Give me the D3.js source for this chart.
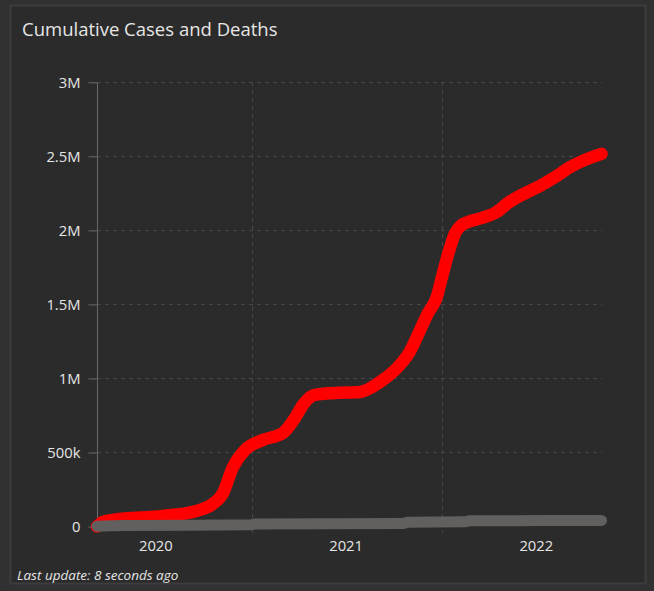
<!DOCTYPE html>
<html><head><meta charset="utf-8">
<script src="https://cdn.jsdelivr.net/npm/d3@7"></script>
<style>
html,body{margin:0;padding:0;background:#313131;}
svg{display:block;}
</style></head>
<body>
<svg id="chart" width="654" height="591"></svg>
<script>
const title = "Cumulative Cases and Deaths";
const footer = "Last update: 8 seconds ago";
const yTicks = [0, 500000, 1000000, 1500000, 2000000, 2500000, 3000000];
const yTickLabels = ["0", "500k", "1M", "1.5M", "2M", "2.5M", "3M"];
const yearLabels = ["2020", "2021", "2022"];
const caseDates = ["2020-03-10","2020-03-21","2020-04-09","2020-07-14","2020-09-17","2020-10-18","2020-11-06","2020-11-26","2020-12-19","2021-01-22","2021-03-02","2021-03-25","2021-04-09","2021-05-02","2021-06-10","2021-07-28","2021-09-04","2021-10-12","2021-10-31","2021-11-19","2021-12-05","2021-12-22","2022-01-01","2022-01-14","2022-01-26","2022-02-08","2022-02-20","2022-03-19","2022-04-13","2022-05-11","2022-06-09","2022-07-08","2022-08-06","2022-09-03","2022-10-02","2022-11-03"];
const caseValues = [0,30000,44000,71000,105000,152000,220000,402000,517000,584000,632000,733000,821000,889000,902000,909000,976000,1091000,1180000,1320000,1440000,1550000,1686000,1855000,1980000,2037000,2057000,2084000,2118000,2193000,2250000,2300000,2360000,2425000,2476000,2517000];
const deathDates = ["2020-03-10","2020-05-01","2020-12-31","2021-01-06","2021-10-20","2021-10-27","2022-02-15","2022-02-22","2022-11-03"];
const deathValues = [2000,6000,11000,17000,21000,29000,32000,38000,41000];

const svg = d3.select("#chart");
const parse = d3.timeParse("%Y-%m-%d");
const cases = caseDates.map((d,i)=>({date:parse(d), v:caseValues[i]}));
const deaths = deathDates.map((d,i)=>({date:parse(d), v:deathValues[i]}));
const font = "'Open Sans', sans-serif";
const textColor = "#e6e6e6";

// panel
svg.append("rect").attr("x",0).attr("y",0).attr("width",654).attr("height",591).attr("fill","#313131");
svg.append("rect").attr("x",10.5).attr("y",5.5).attr("width",635).attr("height",578).attr("fill","#2b2b2b").attr("stroke","#3d3d3d").attr("stroke-width",2);

svg.append("text").attr("x",22).attr("y",36).attr("fill",textColor)
  .attr("font-family",font).attr("font-size",18.5).text(title);
svg.append("text").attr("x",17).attr("y",580).attr("fill",textColor)
  .attr("font-family",font).attr("font-style","italic").attr("font-size",13.5).text(footer);

const x = d3.scaleTime().domain([parse("2020-03-10"), parse("2022-11-04")]).range([97, 602]);
const y = d3.scaleLinear().domain([0, 3000000]).range([526.5, 82.3]);

const gridColor = "#474747";
svg.append("g").selectAll("line").data(yTicks.filter(t=>t>0)).join("line")
  .attr("x1",97).attr("x2",602).attr("y1",d=>Math.round(y(d))+0.5).attr("y2",d=>Math.round(y(d))+0.5)
  .attr("stroke",gridColor).attr("stroke-dasharray","4,4");
const yearBounds = [parse("2021-01-01"), parse("2022-01-01")];
svg.append("g").selectAll("line").data(yearBounds).join("line")
  .attr("x1",d=>Math.round(x(d))+0.5).attr("x2",d=>Math.round(x(d))+0.5).attr("y1",82).attr("y2",533)
  .attr("stroke",gridColor).attr("stroke-dasharray","4,4");

const yAxis = d3.axisLeft(y).tickValues(yTicks).tickFormat((d,i)=>yTickLabels[i]).tickSize(9).tickPadding(8);
const gy = svg.append("g").attr("transform","translate(97.5,0)").call(yAxis);
gy.select(".domain").attr("stroke","#6a6a6a").attr("d","M0,82.3V526.5");
gy.selectAll(".tick line").attr("stroke","#6a6a6a");
gy.selectAll(".tick text").attr("fill",textColor).attr("font-family",font).attr("font-size",14.8);

const gx = svg.append("g");
gx.selectAll("text").data(yearLabels).join("text")
  .attr("x",d=>x(parse(d+"-07-01"))).attr("y",551).attr("text-anchor","middle")
  .attr("fill",textColor).attr("font-family",font).attr("font-size",14.8).text(d=>d);

const line = d3.line().x(d=>x(d.date)).y(d=>y(d.v)).curve(d3.curveMonotoneX);
svg.append("path").datum(cases).attr("d",line).attr("fill","none").attr("stroke","#ff0000")
  .attr("stroke-width",12.5).attr("stroke-linecap","round").attr("stroke-linejoin","round");
svg.append("path").datum(deaths).attr("d",line).attr("fill","none").attr("stroke","#61605e")
  .attr("stroke-width",11).attr("stroke-linecap","round").attr("stroke-linejoin","round");
</script>
</body></html>
